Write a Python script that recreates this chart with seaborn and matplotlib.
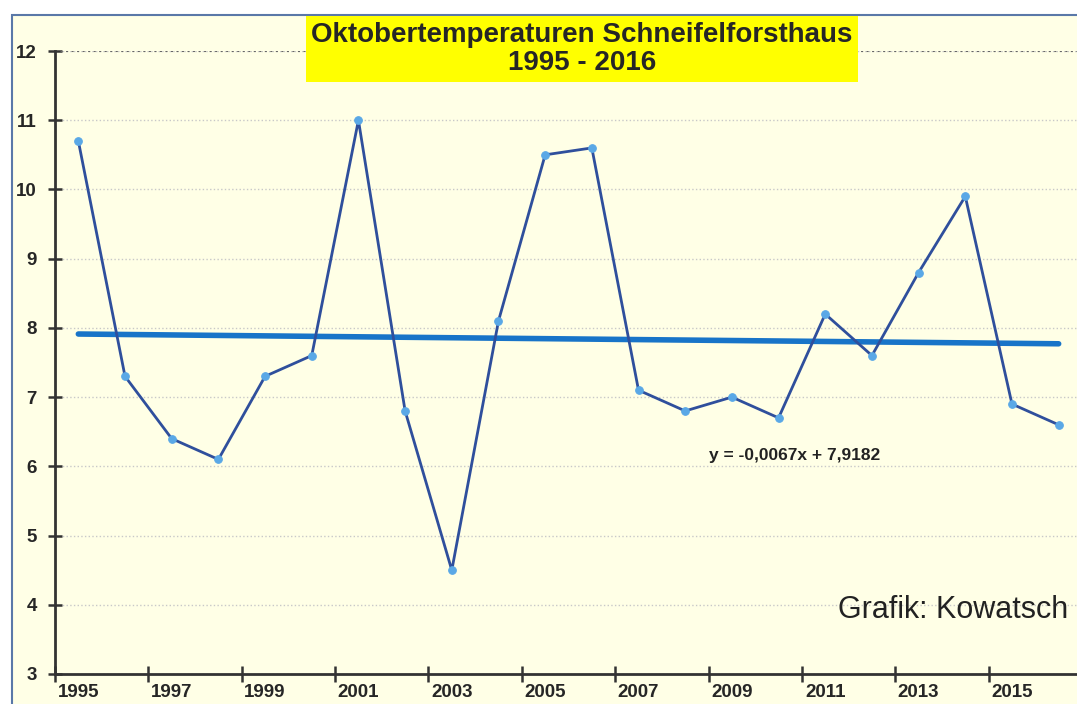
import numpy as np
import pandas as pd
import matplotlib
matplotlib.use("Agg")
import matplotlib.pyplot as plt
from matplotlib.patches import Rectangle
import seaborn as sns

years = list(range(1995, 2017))
temps = [10.7, 7.3, 6.4, 6.1, 7.3, 7.6, 11.0, 6.8, 4.5, 8.1, 10.5,
         10.6, 7.1, 6.8, 7.0, 6.7, 8.2, 7.6, 8.8, 9.9, 6.9, 6.6]
year_labels = [str(y) for y in years[::2]]
title = "Oktobertemperaturen Schneifelforsthaus\n1995 - 2016"
equation = "y = -0,0067x + 7,9182"
credit = "Grafik: Kowatsch"

df = pd.DataFrame({"year": years, "temp": temps})
idx = np.arange(1, len(years) + 1)
slope, icpt = np.polyfit(idx, temps, 1)
df["trend"] = slope * idx + icpt

sns.set_style("white")
plt.rcParams["font.family"] = ["Liberation Sans", "DejaVu Sans"]

fig = plt.figure(figsize=(10.77, 7.04), dpi=100)
fig.patch.set_facecolor("white")

# yellow panel with blue frame (cropped on the right and bottom)
W, H = 1077, 704
panel = Rectangle((12 / W, -0.05), 1.1, (H - 15) / H + 0.05,
                  transform=fig.transFigure, facecolor="#FFFFE6",
                  edgecolor="#5A78A8", linewidth=1.5, zorder=-5)
fig.add_artist(panel)

ax = fig.add_axes([55 / W, 30 / H, (1082 - 55) / W, (674 - 51) / H])
ax.set_facecolor("none")
ax.set_zorder(1)

sns.lineplot(data=df, x="year", y="trend", ax=ax, color="#1874C8",
             linewidth=4, zorder=2)
sns.lineplot(data=df, x="year", y="temp", ax=ax, color="#2F4F9C",
             linewidth=2, marker="o", markersize=5.5,
             markerfacecolor="#5AA8E6", markeredgecolor="#5AA8E6", zorder=3)

ax.set_xlim(1994.5, 2016.5)
ax.set_ylim(3, 12)
ax.set_yticks(range(3, 13))
ax.set_xticks(years[::2])
ax.set_xticklabels(year_labels, fontsize=13.5, fontweight="bold")
ax.set_xticks(np.arange(1994.5, 2017, 2), minor=True)
ax.tick_params(axis="x", which="major", bottom=True, length=0, pad=7)
ax.tick_params(axis="x", which="minor", bottom=True, length=12, width=1.8,
               direction="inout", color="#333333")
ax.tick_params(axis="y", left=True, length=10, width=1.8, direction="inout",
               color="#333333", labelsize=13.5, pad=8)
for lab in ax.get_yticklabels():
    lab.set_fontweight("bold")

ax.grid(axis="y", color="#C8C8C8", linestyle=":", linewidth=1)
ax.axhline(12, color="#666666", linestyle=":", linewidth=1.5, zorder=1)
for side in ["top", "right"]:
    ax.spines[side].set_visible(False)
for side in ["left", "bottom"]:
    ax.spines[side].set_color("#333333")
    ax.spines[side].set_linewidth(2)

ax.set_xlabel("")
ax.set_ylabel("")

fig.text(582 / W, 1 - 49 / H, title, ha="center", va="center",
         fontsize=20, fontweight="bold", linespacing=1.1, zorder=5,
         bbox=dict(boxstyle="square,pad=0.2", facecolor="#FFFF00",
                   edgecolor="none"))
ax.text(2010.35, 6.16, equation, ha="center", va="center", fontsize=12.5,
        fontweight="bold", color="#222222")
ax.text(2016.2, 3.92, credit, ha="right", va="center", fontsize=22,
        color="#222222")

fig.savefig("out.png", dpi=100)
